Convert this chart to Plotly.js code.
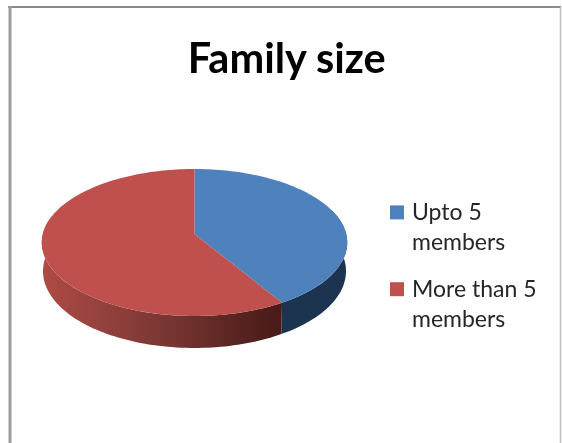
<!DOCTYPE html>
<html>
<head>
<meta charset="utf-8">
<script src="https://cdn.plot.ly/plotly-3.0.1.min.js"></script>
<style>html,body{margin:0;padding:0;background:#fff;overflow:hidden}#chart{width:562px;height:443px;filter:blur(0.45px)}</style>
</head>
<body>
<div id="chart"></div>
<script>
const categories = ["Upto 5<br>members", "More than 5<br>members"];
const shares = [41.3, 58.7];
const topColors = ["#4F81BD", "#C0504D"];
const chartTitle = "Family size";

// projected disc geometry (screen pixels are the axis units)
const cx = 194.5, cy = 234, bx = 151.7, ay = 72.5, persp = 0.1156, depth = 28.3;
function pt(deg, drop) {
  const t = deg * Math.PI / 180, X = Math.sin(t), Y = Math.cos(t), w = 1 + persp * Y;
  const narrow = drop ? 0.992 : 1;
  return [cx + narrow * bx * X / w, cy - ay * Y / w + (drop ? depth / w : 0)];
}
function arc(a, b, drop) {
  const xs = [], ys = [], n = Math.max(2, Math.ceil(Math.abs(b - a) / 1.5));
  for (let i = 0; i <= n; i++) { const p = pt(a + (b - a) * i / n, drop); xs.push(p[0]); ys.push(p[1]); }
  return [xs, ys];
}
const total = shares.reduce((s, v) => s + v, 0);
const splitDeg = 360 * shares[0] / total;

function wall(a, b, grad) {
  const t = arc(a, b, false), d = arc(b, a, true);
  return { x: t[0].concat(d[0]).concat([t[0][0]]), y: t[1].concat(d[1]).concat([t[1][0]]),
    mode: "none", fill: "toself", showlegend: false, hoverinfo: "skip", fillcolor: grad.solid, fillgradient: grad.g };
}
function slice(a, b, color, name) {
  const t = arc(a, b, false);
  return { x: [cx].concat(t[0]).concat([cx]), y: [cy].concat(t[1]).concat([cy]),
    mode: "none", fill: "toself", fillcolor: color, showlegend: false, name: name.replace("<br>", " "), hoverinfo: "name" };
}
function legendEntry(name, color) {
  return { x: [null], y: [null], mode: "markers", name: name, legendgroup: name, marker: { symbol: "square", size: 14, color: color, line: { width: 0 } } };
}
const traces = [
  wall(70, splitDeg, { solid: "#1D3450" }),
  wall(splitDeg, 285, { g: { type: "horizontal", colorscale: [[0, "#B04A45"], [0.25, "#94423E"], [0.55, "#763431"], [0.8, "#5A2522"], [1, "#481A18"]] } }),
  slice(0, splitDeg, topColors[0], categories[0]),
  slice(splitDeg, 360, topColors[1], categories[1]),
  legendEntry(categories[0], topColors[0]),
  legendEntry(categories[1], topColors[1])
];
const layout = {
  width: 562, height: 443, margin: { l: 0, r: 0, t: 0, b: 0 },
  paper_bgcolor: "#fff", plot_bgcolor: "#fff",
  xaxis: { range: [0, 562], visible: false, fixedrange: true },
  yaxis: { range: [443, 0], visible: false, fixedrange: true },
  title: { text: "<b>" + chartTitle + "</b>", x: 0.51, xanchor: "center", y: 0.869, yanchor: "middle", font: { family: "Lato, Carlito, sans-serif", size: 41.5, color: "#000" } },
  legend: { x: 377 / 562, xanchor: "left", y: 1 - 190 / 443, yanchor: "top", font: { family: "Lato, sans-serif", size: 23, color: "#262626" }, bgcolor: "rgba(0,0,0,0)", tracegroupgap: 14 },
  shapes: [
    { type: "line", xref: "x", yref: "y", x0: 8, x1: 561, y0: 7, y1: 7, line: { color: "#8a8a8a", width: 2 } },
    { type: "line", xref: "x", yref: "y", x0: 10, x1: 10, y0: 6, y1: 443, line: { color: "#9c9c9c", width: 3 } },
    { type: "line", xref: "x", yref: "y", x0: 560.5, x1: 560.5, y0: 7, y1: 443, line: { color: "#bdbdbd", width: 1.5 } }
  ]
};
Plotly.newPlot("chart", traces, layout, { displayModeBar: false, staticPlot: true }).then(function () {
  document.querySelectorAll("#chart .legendtext").forEach(function (t) { t.setAttribute("transform", "translate(-5,0)"); });
  document.querySelectorAll("#chart .legendpoints").forEach(function (t) { t.setAttribute("transform", "translate(0,-14)"); });
});
</script>
</body>
</html>
